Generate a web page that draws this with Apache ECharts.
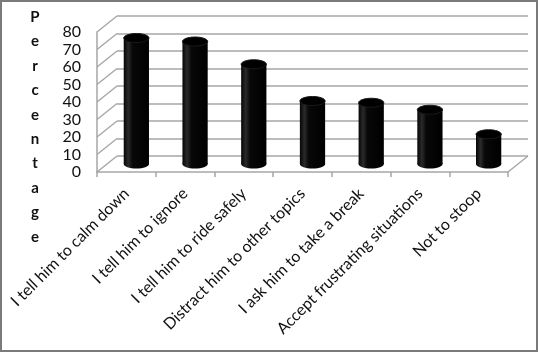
<!DOCTYPE html>
<html>
<head>
<meta charset="utf-8">
<script src="https://cdn.jsdelivr.net/npm/echarts@6/dist/echarts.min.js"></script>
<style>
html,body{margin:0;padding:0;background:#fff;}
#chart{width:538px;height:352px;box-sizing:border-box;border:2px solid #7a7a7a;}
</style>
</head>
<body>
<div id="chart"></div>
<script>
var categories = ["I tell him to calm down","I tell him to ignore","I tell him to ride safely","Distract him to other topics","I ask him to take a break","Accept frustrating situations","Not to stoop"];
var values = [72, 70, 57, 36, 35, 31, 17];
var yTicks = [0, 10, 20, 30, 40, 50, 60, 70, 80];
var yTitle = "Percentage";

var FONT = "Lato";
var GRID_COLOR = "#a6a6a6";
var chart = echarts.init(document.getElementById('chart'), null, {renderer:'canvas'});

function hiddenCat(i){return {type:'category',gridIndex:i,data:categories,show:false};}
function hiddenVal(i){return {type:'value',gridIndex:i,min:0,max:80,interval:10,show:false};}

var option = {
  animation:false,
  title:{
    text: yTitle.split('').join('\n'),
    left: 33, top: 3, padding:0,
    textStyle:{fontFamily:FONT,fontWeight:'bold',fontSize:15,lineHeight:24.4,color:'#111',align:'center'},
    textAlign:'center'
  },
  grid:[
    {left:95, right:28, top:30, bottom:178},   // front
    {left:115, right:8, top:14, bottom:194},   // back wall
    {left:105, right:18, top:22, bottom:186}   // mid (bars)
  ],
  xAxis:[
    {type:'category',gridIndex:0,data:categories,
      axisLine:{show:true,lineStyle:{color:GRID_COLOR,width:1.5}},
      axisTick:{show:true,length:5,lineStyle:{color:GRID_COLOR,width:1.5}},
      axisLabel:{rotate:45,margin:19,interval:0,fontFamily:FONT,fontSize:16,color:'#111'}},
    hiddenCat(1), hiddenCat(2)
  ],
  yAxis:[
    {type:'value',gridIndex:0,min:0,max:80,interval:10,
      axisLine:{show:true,lineStyle:{color:GRID_COLOR,width:1.5}},
      axisTick:{show:false},
      splitLine:{show:false},
      axisLabel:{margin:16,fontFamily:FONT,fontSize:16,color:'#111'}},
    {type:'value',gridIndex:1,min:0,max:80,interval:10,
      axisLine:{show:false},axisTick:{show:false},axisLabel:{show:false},
      splitLine:{show:true,lineStyle:{color:GRID_COLOR,width:1.5}}},
    hiddenVal(2)
  ],
  series:[
    {
      type:'custom', xAxisIndex:1, yAxisIndex:1,
      data: yTicks.map(function(v){return [0, v];}),
      silent:true,
      renderItem:function(params, api){
        var cs = params.coordSys;
        var y = api.coord([0, api.value(1)])[1];
        var children = [{
          type:'line',
          shape:{x1:cs.x, y1:y, x2:cs.x-20, y2:y+16},
          style:{stroke:GRID_COLOR, lineWidth:1.5}
        }];
        if (api.value(1) === 0) {
          children.push({
            type:'line',
            shape:{x1:cs.x+cs.width, y1:y, x2:cs.x+cs.width-20, y2:y+16},
            style:{stroke:GRID_COLOR, lineWidth:1.5}
          });
        }
        return {type:'group', children:children};
      }
    },
    {
      type:'custom', xAxisIndex:2, yAxisIndex:2,
      data: values.map(function(v,i){return [i, v];}),
      renderItem:function(params, api){
        var top = api.coord([api.value(0), api.value(1)]);
        var base = api.coord([api.value(0), 0]);
        var w = api.size([1,0])[0]*0.43;
        var rx = w/2, ry = 4.5;
        var grad = new echarts.graphic.LinearGradient(0,0,1,0,[
          {offset:0,color:'#050505'},{offset:0.18,color:'#2a2a2a'},{offset:0.35,color:'#080808'},{offset:1,color:'#000'}
        ]);
        return {type:'group', children:[
          {type:'rect', shape:{x:top[0]-rx, y:top[1], width:w, height:base[1]-top[1]}, style:{fill:grad}},
          {type:'ellipse', shape:{cx:base[0], cy:base[1], rx:rx, ry:ry}, style:{fill:grad}},
          {type:'ellipse', shape:{cx:top[0], cy:top[1], rx:rx, ry:ry}, style:{fill:'#000', stroke:'#1a1a1a', lineWidth:1}}
        ]};
      }
    }
  ]
};
chart.setOption(option);
</script>
</body>
</html>
